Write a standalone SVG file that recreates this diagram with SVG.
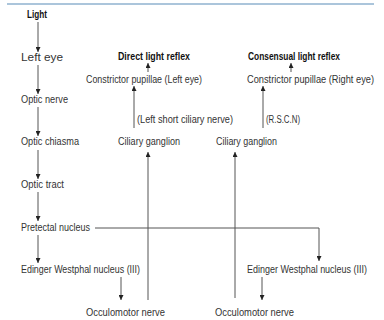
<svg xmlns="http://www.w3.org/2000/svg" width="384" height="320" viewBox="0 0 384 320">
<defs>
<style>
text{font-family:"Liberation Sans",Arial,sans-serif;font-size:10px;fill:#333}
.b{font-weight:bold;fill:#111}
.ln{stroke:#555;stroke-width:1;fill:none}
.ar{marker-end:url(#ah)}
</style>
<marker id="ah" viewBox="0 0 8 8" refX="8" refY="4" markerWidth="5" markerHeight="5" markerUnits="userSpaceOnUse" orient="auto"><path d="M0,0 L8,4 L0,8 z" fill="#222"/></marker>
</defs>
<rect width="384" height="320" fill="#fff"/>
<line x1="7" y1="4" x2="374" y2="4" stroke="#8fb2cf" stroke-width="1.5"/>
<g id="connectors">
<line class="ln ar" x1="38" y1="22" x2="38" y2="52"/>
<line class="ln ar" x1="38" y1="65" x2="38" y2="94"/>
<line class="ln ar" x1="38" y1="107" x2="38" y2="136"/>
<line class="ln ar" x1="38" y1="150" x2="38" y2="179"/>
<line class="ln ar" x1="38" y1="192" x2="38" y2="221"/>
<line class="ln ar" x1="38" y1="235" x2="38" y2="263"/>
<polyline class="ln ar" points="95,228 319,228 319,261"/>
<line class="ln ar" x1="121" y1="277" x2="121" y2="300"/>
<line class="ln ar" x1="262" y1="277" x2="262" y2="300"/>
<line class="ln ar" x1="148" y1="300" x2="148" y2="152"/>
<line class="ln ar" x1="235" y1="298" x2="235" y2="152"/>
<line class="ln ar" x1="134" y1="128" x2="134" y2="86"/>
<line class="ln ar" x1="263" y1="128" x2="263" y2="86"/>
<line class="ln ar" x1="148" y1="72" x2="148" y2="63"/>
<line class="ln ar" x1="291" y1="72" x2="291" y2="63"/>
</g>
<g id="light"><text class="b" x="27" y="18" textLength="20" lengthAdjust="spacingAndGlyphs">Light</text></g>
<g id="left-eye"><text x="21" y="61" textLength="42" lengthAdjust="spacingAndGlyphs">Left eye</text></g>
<g id="optic-nerve"><text x="21" y="103" textLength="47" lengthAdjust="spacingAndGlyphs">Optic nerve</text></g>
<g id="optic-chiasma"><text x="21" y="145" textLength="58" lengthAdjust="spacingAndGlyphs">Optic chiasma</text></g>
<g id="optic-tract"><text x="21" y="188" textLength="43" lengthAdjust="spacingAndGlyphs">Optic tract</text></g>
<g id="pretectal"><text x="21" y="231" textLength="69" lengthAdjust="spacingAndGlyphs">Pretectal nucleus</text></g>
<g id="ew-left"><text x="21" y="273" textLength="119" lengthAdjust="spacingAndGlyphs">Edinger Westphal nucleus (III)</text></g>
<g id="om-left"><text x="86" y="316" textLength="79" lengthAdjust="spacingAndGlyphs">Occulomotor nerve</text></g>
<g id="direct"><text class="b" x="118" y="60" textLength="72" lengthAdjust="spacingAndGlyphs">Direct light reflex</text></g>
<g id="cp-left"><text x="86" y="83" textLength="116" lengthAdjust="spacingAndGlyphs">Constrictor pupillae (Left eye)</text></g>
<g id="lscn"><text x="137" y="123" textLength="96" lengthAdjust="spacingAndGlyphs">(Left short ciliary nerve)</text></g>
<g id="cg-left"><text x="118" y="145" textLength="62" lengthAdjust="spacingAndGlyphs">Ciliary ganglion</text></g>
<g id="consensual"><text class="b" x="248" y="60" textLength="92" lengthAdjust="spacingAndGlyphs">Consensual light reflex</text></g>
<g id="cp-right"><text x="247" y="83" textLength="127" lengthAdjust="spacingAndGlyphs">Constrictor pupillae (Right eye)</text></g>
<g id="rscn"><text x="266" y="123" textLength="34" lengthAdjust="spacingAndGlyphs">(R.S.C.N)</text></g>
<g id="cg-right"><text x="216" y="145" textLength="61" lengthAdjust="spacingAndGlyphs">Ciliary ganglion</text></g>
<g id="ew-right"><text x="247" y="273" textLength="120" lengthAdjust="spacingAndGlyphs">Edinger Westphal nucleus (III)</text></g>
<g id="om-right"><text x="215" y="316" textLength="79" lengthAdjust="spacingAndGlyphs">Occulomotor nerve</text></g>
</svg>
